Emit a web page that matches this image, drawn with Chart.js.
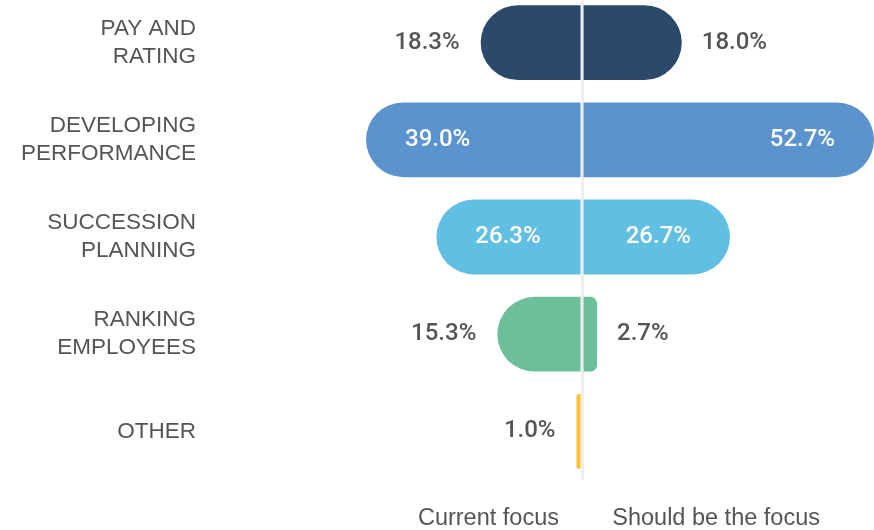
<!DOCTYPE html>
<html>
<head>
<meta charset="utf-8">
<script src="https://cdn.jsdelivr.net/npm/chart.js@4"></script>
<style>
  body { margin: 0; background: #fff; overflow: hidden; }
  #wrap { width: 874px; height: 536px; margin-top: -6px; }
</style>
</head>
<body>
<div id="wrap"><canvas id="chart"></canvas></div>
<script>
// focus areas, values in percent
var categories = [['PAY AND', 'RATING'], ['DEVELOPING', 'PERFORMANCE'], ['SUCCESSION', 'PLANNING'], ['RANKING', 'EMPLOYEES'], ['OTHER']];
var currentFocus = [18.3, 39.0, 26.3, 15.3, 1.0];
var shouldBeFocus = [18.0, 52.7, 26.7, 2.7, 0];
var sideLabels = ['Current focus', 'Should be the focus'];
var barColors = ['#2c496b', '#5b93cf', '#62bfe4', '#6bbf9b', '#fbc02d'];

var valueFont = '500 24px Roboto, "Liberation Sans", Arial, sans-serif';

// draws the % labels next to / inside each bar
var valueLabels = {
  id: 'valueLabels',
  afterDatasetsDraw: function(chart) {
    var ctx = chart.ctx;
    ctx.save();
    ctx.font = valueFont;
    ctx.textBaseline = 'middle';
    chart.data.datasets.forEach(function(ds, di) {
      var raw = di == 0 ? currentFocus : shouldBeFocus;
      chart.getDatasetMeta(di).data.forEach(function(bar, i) {
        var v = raw[i];
        if (!v) return;
        var txt = v.toFixed(1) + '%';
        var inside = v > 20;
        if (di == 0) {
          if (inside) { ctx.fillStyle = '#fff'; ctx.textAlign = 'left'; ctx.fillText(txt, bar.x + 39, bar.y); }
          else { ctx.fillStyle = '#555'; ctx.textAlign = 'right'; ctx.fillText(txt, bar.x - 21, bar.y); }
        } else {
          if (inside) { ctx.fillStyle = '#fff'; ctx.textAlign = 'right'; ctx.fillText(txt, bar.x - 39, bar.y); }
          else { ctx.fillStyle = '#555'; ctx.textAlign = 'left'; ctx.fillText(txt, bar.x + 20, bar.y); }
        }
      });
    });
    ctx.restore();
  }
};

var ctx = document.getElementById('chart').getContext('2d');
var chart = new Chart(ctx, {
  type: 'bar',
  data: {
    labels: categories,
    datasets: [{
      label: sideLabels[0],
      data: currentFocus.map(function(v) { return -v; }),
      backgroundColor: barColors
    }, {
      label: sideLabels[1],
      data: shouldBeFocus,
      backgroundColor: barColors
    }]
  },
  options: {
    indexAxis: 'y',
    responsive: true,
    maintainAspectRatio: false,
    animation: false,
    layout: { padding: 0 },
    datasets: {
      bar: { barPercentage: 0.77, categoryPercentage: 1, borderRadius: 40, borderSkipped: 'start' }
    },
    plugins: {
      legend: { display: false },
      tooltip: { enabled: false }
    },
    scales: {
      x: {
        stacked: true,
        min: -45.5,
        max: 52.7,
        z: 1,
        border: { display: false },
        grid: {
          drawTicks: false,
          lineWidth: 3,
          color: function(c) { return c.tick && c.tick.value === 0 ? '#eeeeee' : 'rgba(0,0,0,0)'; }
        },
        afterBuildTicks: function(axis) {
          axis.ticks = [{ value: -16.9 }, { value: 0 }, { value: 24.2 }];
        },
        afterFit: function(axis) { axis.height = 50; },
        ticks: {
          padding: 24,
          color: '#555',
          font: { family: '"Liberation Sans", Arial, sans-serif', size: 23.5 },
          maxRotation: 0,
          autoSkip: false,
          callback: function(v) {
            if (v < 0) return sideLabels[0];
            if (v > 0) return sideLabels[1];
            return '';
          }
        }
      },
      y: {
        stacked: true,
        border: { display: false },
        grid: { display: false, drawTicks: false },
        afterFit: function(axis) {
          axis.width = 330;
          axis.paddingTop = 0;
          axis.paddingBottom = 0;
        },
        ticks: {
          padding: 134,
          color: '#555',
          font: { family: '"Liberation Sans", Arial, sans-serif', size: 22.5, lineHeight: 1.24 }
        }
      }
    }
  },
  plugins: [valueLabels]
});
</script>
</body>
</html>
